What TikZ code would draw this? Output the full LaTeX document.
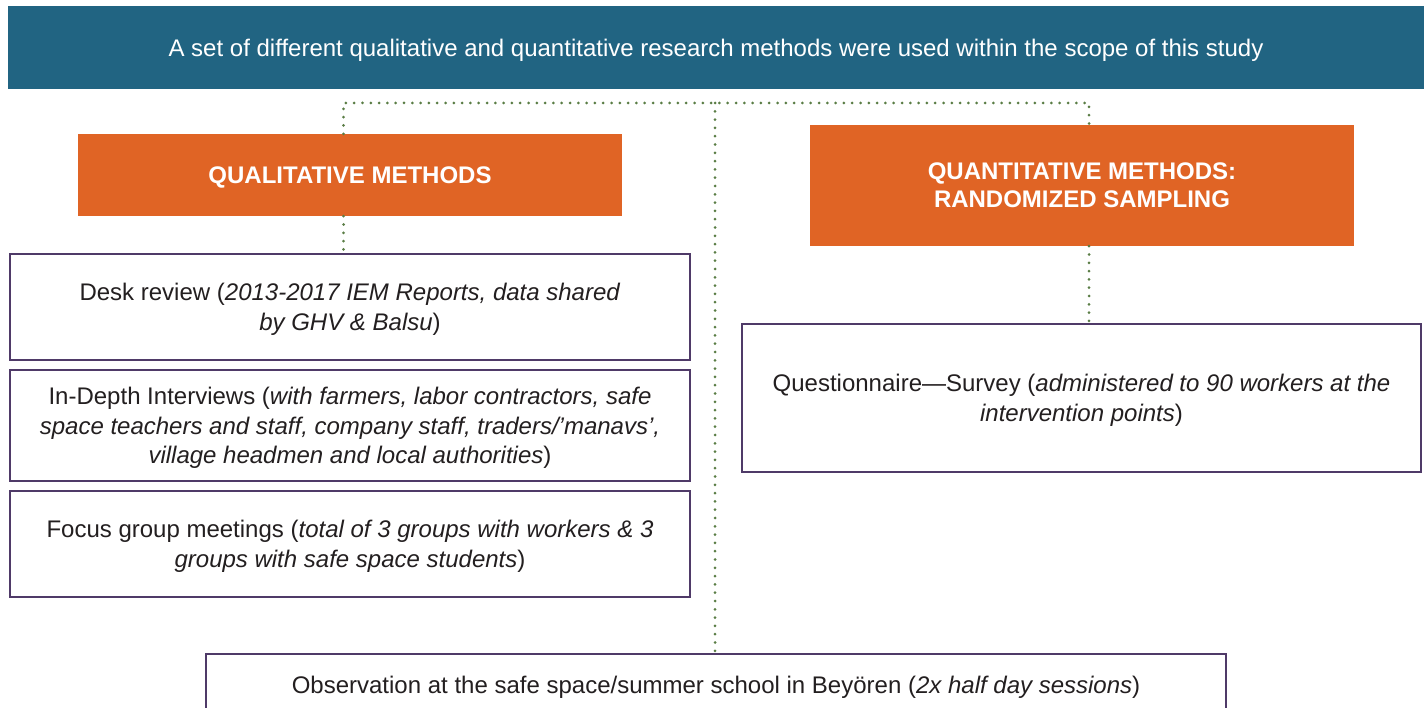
\documentclass[tikz,border=0pt]{standalone}
\usepackage{fontspec}
\setmainfont{Liberation Sans}
\usepackage{xcolor}
\usetikzlibrary{positioning}
\definecolor{bannerblue}{HTML}{216482}
\definecolor{methodorange}{HTML}{E06425}
\definecolor{boxpurple}{HTML}{4F3A68}
\definecolor{dotgreen}{HTML}{5A7D45}
\definecolor{bodytext}{HTML}{231F20}

\begin{document}
\begin{tikzpicture}[
    x = 1pt, y = -1pt,
    node distance = 7.6pt,
    banner/.style = {fill=bannerblue, text=white, inner sep=0pt, text depth=0pt,
      minimum width=1416pt, minimum height=83pt,
      font=\fontsize{24}{28}\selectfont},
    method/.style = {fill=methodorange, text=white, inner sep=0pt, align=center,
      text depth=0pt, minimum width=544pt, font=\bfseries\fontsize{24}{28}\selectfont},
    item/.style = {draw=boxpurple, line width=2.4pt, fill=white, text=bodytext,
      inner sep=0pt, align=center, text depth=0pt, font=\fontsize{24}{29.5}\selectfont},
    dots/.style = {dotgreen, line width=3pt, line cap=round,
      dash pattern=on 0pt off 8.3pt}]
    \useasboundingbox (0,0) rectangle (1428,708);
    \node[banner] (top) at (716,47.5)
      {A set of different qualitative and quantitative research methods were used within the scope of this study};
    \node[method, minimum height=82pt] (qual) at (350,175) {QUALITATIVE METHODS};
    \node[method, minimum height=121pt] (quant) at (1082,185.5)
      {QUANTITATIVE METHODS:\\RANDOMIZED SAMPLING};
    % qualitative items
    \node[item, minimum width=680pt, minimum height=106pt] (desk) at (350,307)
      {Desk review (\textit{2013-2017 IEM Reports, data shared}\\\textit{by GHV \& Balsu})};
    \node[item, minimum width=680pt, minimum height=111pt] (idi) [below=of desk]
      {In-Depth Interviews (\textit{with farmers, labor contractors, safe}\\
       \textit{space teachers and staff, company staff, traders/’manavs’,}\\
       \textit{village headmen and local authorities})};
    \node[item, minimum width=680pt, minimum height=106pt] (fgm) [below=of idi]
      {Focus group meetings (\textit{total of 3 groups with workers \& 3}\\
       \textit{groups with safe space students})};
    % quantitative item
    \node[item, minimum width=679pt, minimum height=148pt] (survey) at (1081.5,398)
      {Questionnaire—Survey (\textit{administered to 90 workers at the}\\
       \textit{intervention points})};
    \node[item, minimum width=1020pt, minimum height=62pt] (obs) at (716,685)
      {Observation at the safe space/summer school in Beyören (\textit{2x half day sessions})};
    % dotted connectors
    \coordinate (split) at (715,103);
    \draw[dots] ([xshift=-6.5pt]qual.north) |- (split) -| ([xshift=7pt]quant.north);
    \draw[dots] (split) -- (split |- obs.north);
    \draw[dots] ([xshift=-6.5pt]qual.south) -- ([xshift=-6.5pt]desk.north);
    \draw[dots] ([xshift=7pt]quant.south) -- ([xshift=7.5pt]survey.north);
\end{tikzpicture}
\end{document}
